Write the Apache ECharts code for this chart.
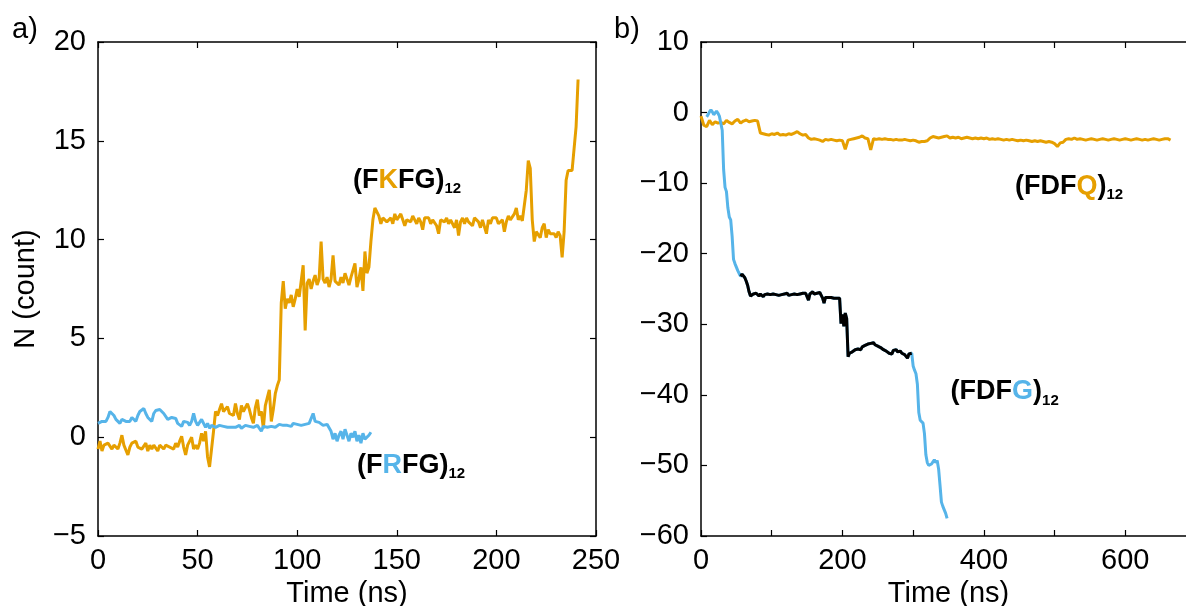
<!DOCTYPE html>
<html>
<head>
<meta charset="utf-8">
<script src="https://cdn.jsdelivr.net/npm/echarts@6/dist/echarts.min.js"></script>
<style>
html,body{margin:0;padding:0;background:#fff;}
#chart{width:1186px;height:606px;}
</style>
</head>
<body>
<div id="chart"></div>
<script>
// ---------- DATA ----------
// Panel a: (FKFG)12, sampled every 1 ns starting at 0 ns
const fkfgStart = 0, fkfgStep = 1;
const fkfgValues = [
-0.6,-0.2,-0.7,-0.4,-0.5,-0.3,-0.4,-0.6,-0.4,-0.5,
-0.6,-0.3,0.1,-0.4,-0.5,-0.9,-0.5,-0.3,-0.4,-0.2,
-0.5,-0.4,-0.6,-0.5,-0.3,-0.7,-0.4,-0.6,-0.4,-0.5,
-0.7,-0.4,-0.3,-0.6,-0.4,-0.3,-0.5,-0.4,-0.6,-0.3,
-0.5,-0.2,0.05,-0.5,-0.9,-0.4,-0.2,0.0,-0.6,-0.4,
-0.6,-0.3,0.2,-0.2,0.3,-1.0,-1.5,-1.6,0.3,1.3,
1.1,1.4,1.7,1.3,1.4,1.55,1.2,1.3,1.1,1.7,
1.2,0.9,1.6,1.3,1.2,1.7,1.4,1.0,0.7,1.5,
1.9,1.1,1.3,0.45,1.6,2.0,2.4,0.8,1.4,2.2,
2.6,2.9,6.8,7.9,6.5,7.0,6.8,7.2,6.6,7.0,
7.5,7.1,7.2,8.7,5.4,7.8,8.0,7.5,7.9,8.2,
7.7,8.0,9.9,8.0,7.8,8.1,7.6,8.0,9.2,7.9,
8.0,7.7,8.1,7.8,8.3,8.0,7.7,8.1,8.0,8.8,
7.6,8.0,8.6,7.4,9.4,8.3,8.6,9.9,11.0,11.6,
11.7,11.2,10.8,11.1,11.2,10.9,11.0,11.1,10.8,11.3,
11.0,10.9,11.3,11.0,10.7,11.0,11.1,10.9,11.2,11.0,
10.8,11.1,10.9,10.5,11.1,11.0,11.1,10.8,11.0,10.9,
10.7,10.3,11.0,11.1,10.9,11.1,10.8,11.0,10.95,10.6,
11.0,10.2,10.9,11.1,10.8,11.1,10.9,11.0,10.7,11.1,
11.2,10.9,10.6,11.0,10.9,10.3,11.0,10.8,11.1,11.0,
11.1,10.8,10.9,11.0,10.4,10.9,11.2,11.0,10.9,11.3,
11.6,11.0,11.2,10.95,10.9,12.5,14.0,13.6,11.0,9.9,
10.4,10.3,10.1,10.6,10.8,10.1,10.5,10.3,10.2,10.3,
10.1,10.4,10.2,9.1,10.4,13.0,13.5,13.4,13.5,13.4,
15.7,18.1
];
// Panel a: (FRFG)12, sampled every 1 ns starting at 0 ns
const frfgStart = 0, frfgStep = 1;
const frfgValues = [
0.7,0.6,0.8,0.9,0.8,1.0,1.3,1.2,1.1,0.9,
0.9,0.7,0.9,1.0,0.8,0.9,0.8,1.0,0.95,0.8,
1.1,1.3,1.2,1.45,1.2,1.0,1.1,0.8,1.2,1.35,
1.3,1.4,1.3,1.2,1.1,0.9,0.8,1.0,0.9,0.95,
0.7,0.8,0.55,0.8,0.7,0.75,0.6,0.8,1.2,0.8,
0.6,0.7,0.9,0.7,0.5,0.7,0.45,0.6,0.7,0.5,
0.45,0.6,0.5,0.55,0.6,0.5,0.55,0.5,0.6,0.5,
0.55,0.6,0.45,0.55,0.6,0.5,0.55,0.6,0.5,0.55,
0.6,0.5,0.3,0.55,0.6,0.5,0.6,0.55,0.65,0.5,
0.6,0.65,0.55,0.6,0.7,0.6,0.65,0.55,0.7,0.6,
0.65,0.7,0.6,0.7,0.65,0.75,0.7,0.8,1.2,0.8,
0.7,0.75,0.7,0.6,0.7,0.65,0.7,0.3,-0.1,0.2,
-0.2,0.1,0.3,-0.1,0.4,0.1,-0.2,0.2,0.0,0.3,
-0.2,0.1,-0.3,0.2,-0.1,0.0,0.1,0.25
];
// Panel b: (FDFQ)12, sampled every 4 ns starting at 0 ns
const fdfqStart = 0, fdfqStep = 4;
const fdfqValues = [
-0.5,-1.8,-2.0,-1.1,-1.7,-1.3,-1.5,-1.4,-1.6,-1.1,
-1.4,-1.6,-1.2,-0.95,-1.5,-1.2,-1.05,-1.3,-1.2,-1.1,
-1.2,-2.9,-3.0,-3.1,-3.2,-3.0,-3.1,-2.9,-3.2,-3.1,
-3.2,-3.0,-3.1,-2.9,-2.7,-3.0,-3.2,-3.1,-3.6,-3.8,
-3.7,-3.8,-3.9,-4.1,-3.8,-3.9,-3.8,-3.9,-4.0,-3.9,
-4.0,-5.2,-3.9,-3.8,-3.7,-3.6,-3.5,-3.3,-3.6,-3.7,
-5.3,-3.7,-3.8,-3.7,-3.8,-3.7,-3.8,-3.8,-3.9,-3.8,
-3.9,-3.9,-3.8,-3.9,-4.0,-3.9,-4.0,-4.2,-4.1,-4.1,
-4.0,-3.6,-3.4,-3.5,-3.6,-3.5,-3.4,-3.3,-3.6,-3.5,
-3.6,-3.5,-3.7,-3.6,-3.5,-3.6,-3.7,-3.6,-3.7,-3.6,
-3.7,-3.6,-3.8,-3.7,-3.8,-3.7,-3.8,-3.9,-3.8,-3.9,
-3.8,-3.9,-4.0,-3.9,-4.0,-3.9,-4.0,-4.1,-4.0,-4.1,
-4.0,-4.1,-4.2,-4.1,-4.2,-4.4,-4.8,-4.3,-4.2,-3.8,
-3.7,-3.8,-3.6,-3.8,-3.7,-3.8,-3.9,-3.8,-3.7,-3.8,
-3.9,-3.8,-3.7,-3.8,-3.9,-3.8,-3.7,-3.8,-3.9,-3.8,
-3.7,-3.8,-3.9,-3.8,-3.7,-3.8,-3.9,-3.8,-3.9,-3.8,
-3.7,-3.8,-3.9,-3.8,-3.7,-3.7,-3.9
];
// Panel b: (FDFG)12, sampled every 2 ns starting at 8 ns
const fdfgStart = 8, fdfgStep = 2;
const fdfgValues = [
-0.6,-0.3,0.1,0.4,0.1,-0.3,-0.1,0.2,-0.1,-0.5,
-1.5,-2.5,-8.1,-10.6,-11.2,-13.5,-14.8,-15.2,-17.5,-20.8,
-21.4,-21.9,-22.4,-22.8,-23.2,-22.9,-23.1,-23.4,-23.9,-24.5,
-25.4,-26.0,-25.8,-25.7,-25.9,-25.6,-25.8,-26.0,-25.7,-25.9,
-26.1,-25.8,-26.0,-25.7,-25.9,-25.8,-26.0,-25.7,-25.9,-25.8,
-25.6,-25.9,-25.7,-25.8,-26.0,-25.7,-25.8,-25.6,-25.9,-25.7,
-25.8,-25.6,-25.7,-25.5,-25.8,-25.6,-25.7,-25.5,-25.6,-25.4,
-25.6,-25.4,-26.6,-25.7,-25.6,-25.4,-25.7,-25.5,-25.6,-25.8,
-25.5,-25.9,-26.3,-27.0,-26.2,-26.1,-26.2,-26.3,-26.2,-26.2,
-26.3,-26.2,-26.3,-26.2,-26.3,-29.9,-28.6,-30.3,-28.4,-29.2,
-34.6,-34.1,-34.3,-33.9,-34.0,-33.6,-33.8,-33.5,-33.4,-33.6,
-33.2,-33.4,-33.0,-33.2,-32.8,-33.0,-32.7,-32.9,-32.6,-32.9,
-32.8,-33.1,-32.9,-33.3,-33.4,-33.6,-33.5,-33.8,-34.0,-34.1,
-33.9,-34.2,-33.7,-33.5,-33.6,-33.9,-34.0,-33.8,-34.1,-34.0,
-34.3,-34.1,-34.8,-34.2,-34.0,-34.1,-35.9,-36.5,-37.0,-38.5,
-42.5,-43.6,-43.8,-44.0,-45.5,-48.5,-49.6,-50.0,-50.2,-49.8,
-49.5,-49.2,-49.6,-49.3,-50.5,-52.8,-55.2,-55.8,-56.3,-56.8,
-57.5
];
// highlighted (black) window of the (FDFG)12 trajectory, ns
const fdfgBlackWindow = [56, 298];

// Axis ranges / ticks
const aX = {min: 0, max: 250, interval: 50};
const aY = {min: -5, max: 20, interval: 5};
const bX = {min: 0, max: 700, interval: 100, labelEvery: 200};
const bY = {min: -60, max: 10, interval: 10};

// Text labels
const labelsA = [
  {parts: ['(F', 'K', 'FG)'], hl: 'orange', sub: '12', at: [128, 13.0]},
  {parts: ['(F', 'R', 'FG)'], hl: 'blue', sub: '12', at: [130, -1.45]}
];
const labelsB = [
  {parts: ['(FDF', 'Q', ')'], hl: 'orange', sub: '12', at: [444, -10.5]},
  {parts: ['(FDF', 'G', ')'], hl: 'blue', sub: '12', at: [353, -39.6]}
];

// ---------- CHART ----------
const COL = {orange: '#E69F00', blue: '#56B4E9', black: '#000000'};
const FONT = "'Liberation Sans', Arial, Helvetica, sans-serif";
const toPairs = (start, step, vals) => vals.map((v, i) => [start + i * step, v]);
const fkfg = toPairs(fkfgStart, fkfgStep, fkfgValues);
const frfg = toPairs(frfgStart, frfgStep, frfgValues);
const fdfq = toPairs(fdfqStart, fdfqStep, fdfqValues);
const fdfg = toPairs(fdfgStart, fdfgStep, fdfgValues);
const fdfgBlack = fdfg.filter(p => p[0] >= fdfgBlackWindow[0] && p[0] <= fdfgBlackWindow[1]);

const minus = v => String(v).replace('-', '\u2212');
const lineAx = {show: true, onZero: false, lineStyle: {color: '#000', width: 1.5}};
const tickIn = {show: true, inside: true, length: 6, lineStyle: {color: '#000', width: 1.2}};
const lbl = {color: '#000', fontSize: 29, fontFamily: FONT};
const nameStyle = {color: '#000', fontSize: 29, fontFamily: FONT};

function mainX(grid, r, extra) {
  return Object.assign({
    type: 'value', gridIndex: grid, position: 'bottom', min: r.min, max: r.max, interval: r.interval,
    axisLine: lineAx, axisTick: tickIn, splitLine: {show: false},
    axisLabel: Object.assign({margin: 10, formatter: minus, showMinLabel: true, showMaxLabel: true}, lbl),
    name: 'Time (ns)', nameLocation: 'middle', nameGap: 42, nameTextStyle: nameStyle
  }, extra || {});
}
function mirrorX(grid, r) {
  return {type: 'value', gridIndex: grid, position: 'top', min: r.min, max: r.max, interval: r.interval,
    axisLine: lineAx, axisTick: tickIn, axisLabel: {show: false}, splitLine: {show: false}};
}
function mainY(grid, r, extra) {
  return Object.assign({
    type: 'value', gridIndex: grid, position: 'left', min: r.min, max: r.max, interval: r.interval,
    axisLine: lineAx, axisTick: tickIn, splitLine: {show: false},
    axisLabel: Object.assign({margin: 12, formatter: minus, showMinLabel: true, showMaxLabel: true}, lbl)
  }, extra || {});
}
function mirrorY(grid, r) {
  return {type: 'value', gridIndex: grid, position: 'right', min: r.min, max: r.max, interval: r.interval,
    axisLine: lineAx, axisTick: tickIn, axisLabel: {show: false}, splitLine: {show: false}};
}

const line = (name, data, color, xi, yi) => ({
  name, type: 'line', data, xAxisIndex: xi, yAxisIndex: yi, showSymbol: false, symbol: 'none',
  lineStyle: {color, width: 3}, itemStyle: {color}, animation: false, clip: true
});

const chart = echarts.init(document.getElementById('chart'), null, {renderer: 'canvas'});
chart.setOption({
  backgroundColor: '#ffffff',
  animation: false,
  grid: [
    {left: 98, top: 42, width: 498, height: 494, containLabel: false, outerBoundsMode: 'none'},
    {left: 701, top: 42, width: 495, height: 494, containLabel: false, outerBoundsMode: 'none'}
  ],
  xAxis: [
    mainX(0, aX),
    mirrorX(0, aX),
    mainX(1, bX, {axisLabel: Object.assign({margin: 10, showMinLabel: true, showMaxLabel: true,
      formatter: v => (v % bX.labelEvery === 0 ? minus(v) : '')}, lbl)}),
    mirrorX(1, bX)
  ],
  yAxis: [
    mainY(0, aY, {name: 'N (count)', nameLocation: 'middle', nameGap: 58, nameRotate: 90, nameTextStyle: nameStyle}),
    mirrorY(0, aY),
    mainY(1, bY),
    mirrorY(1, bY)
  ],
  series: [
    line('(FKFG)12', fkfg, COL.orange, 0, 0),
    line('(FRFG)12', frfg, COL.blue, 0, 0),
    line('(FDFQ)12', fdfq, COL.orange, 2, 2),
    line('(FDFG)12', fdfg, COL.blue, 2, 2),
    line('(FDFG)12 window', fdfgBlack, COL.black, 2, 2)
  ]
});

function labelEl(l, gridIndex) {
  const p = chart.convertToPixel({gridIndex: gridIndex}, l.at);
  const txt = '{b|' + l.parts[0] + '}{h|' + l.parts[1] + '}{b|' + l.parts[2] + '}{s|' + l.sub + '}';
  const base = {fontSize: 27, fontWeight: 'bold', fontFamily: FONT, lineHeight: 32};
  return {
    type: 'text', x: p[0], y: p[1], z: 100,
    style: {
      text: txt, align: 'left', verticalAlign: 'middle', fill: '#000',
      rich: {
        b: Object.assign({fill: '#000', color: '#000'}, base),
        h: Object.assign({fill: COL[l.hl], color: COL[l.hl]}, base),
        s: {fontSize: 15, fontWeight: 'bold', fontFamily: FONT, fill: '#000', color: '#000', lineHeight: 10, verticalAlign: 'bottom'}
      }
    }
  };
}
const g = [];
labelsA.forEach(l => g.push(labelEl(l, 0)));
labelsB.forEach(l => g.push(labelEl(l, 1)));
g.push({type: 'text', x: 12, y: 30, style: {text: 'a)', fontSize: 29, fontFamily: FONT, fill: '#000', verticalAlign: 'middle'}});
g.push({type: 'text', x: 614, y: 30, style: {text: 'b)', fontSize: 29, fontFamily: FONT, fill: '#000', verticalAlign: 'middle'}});
chart.setOption({graphic: g});
</script>
</body>
</html>
